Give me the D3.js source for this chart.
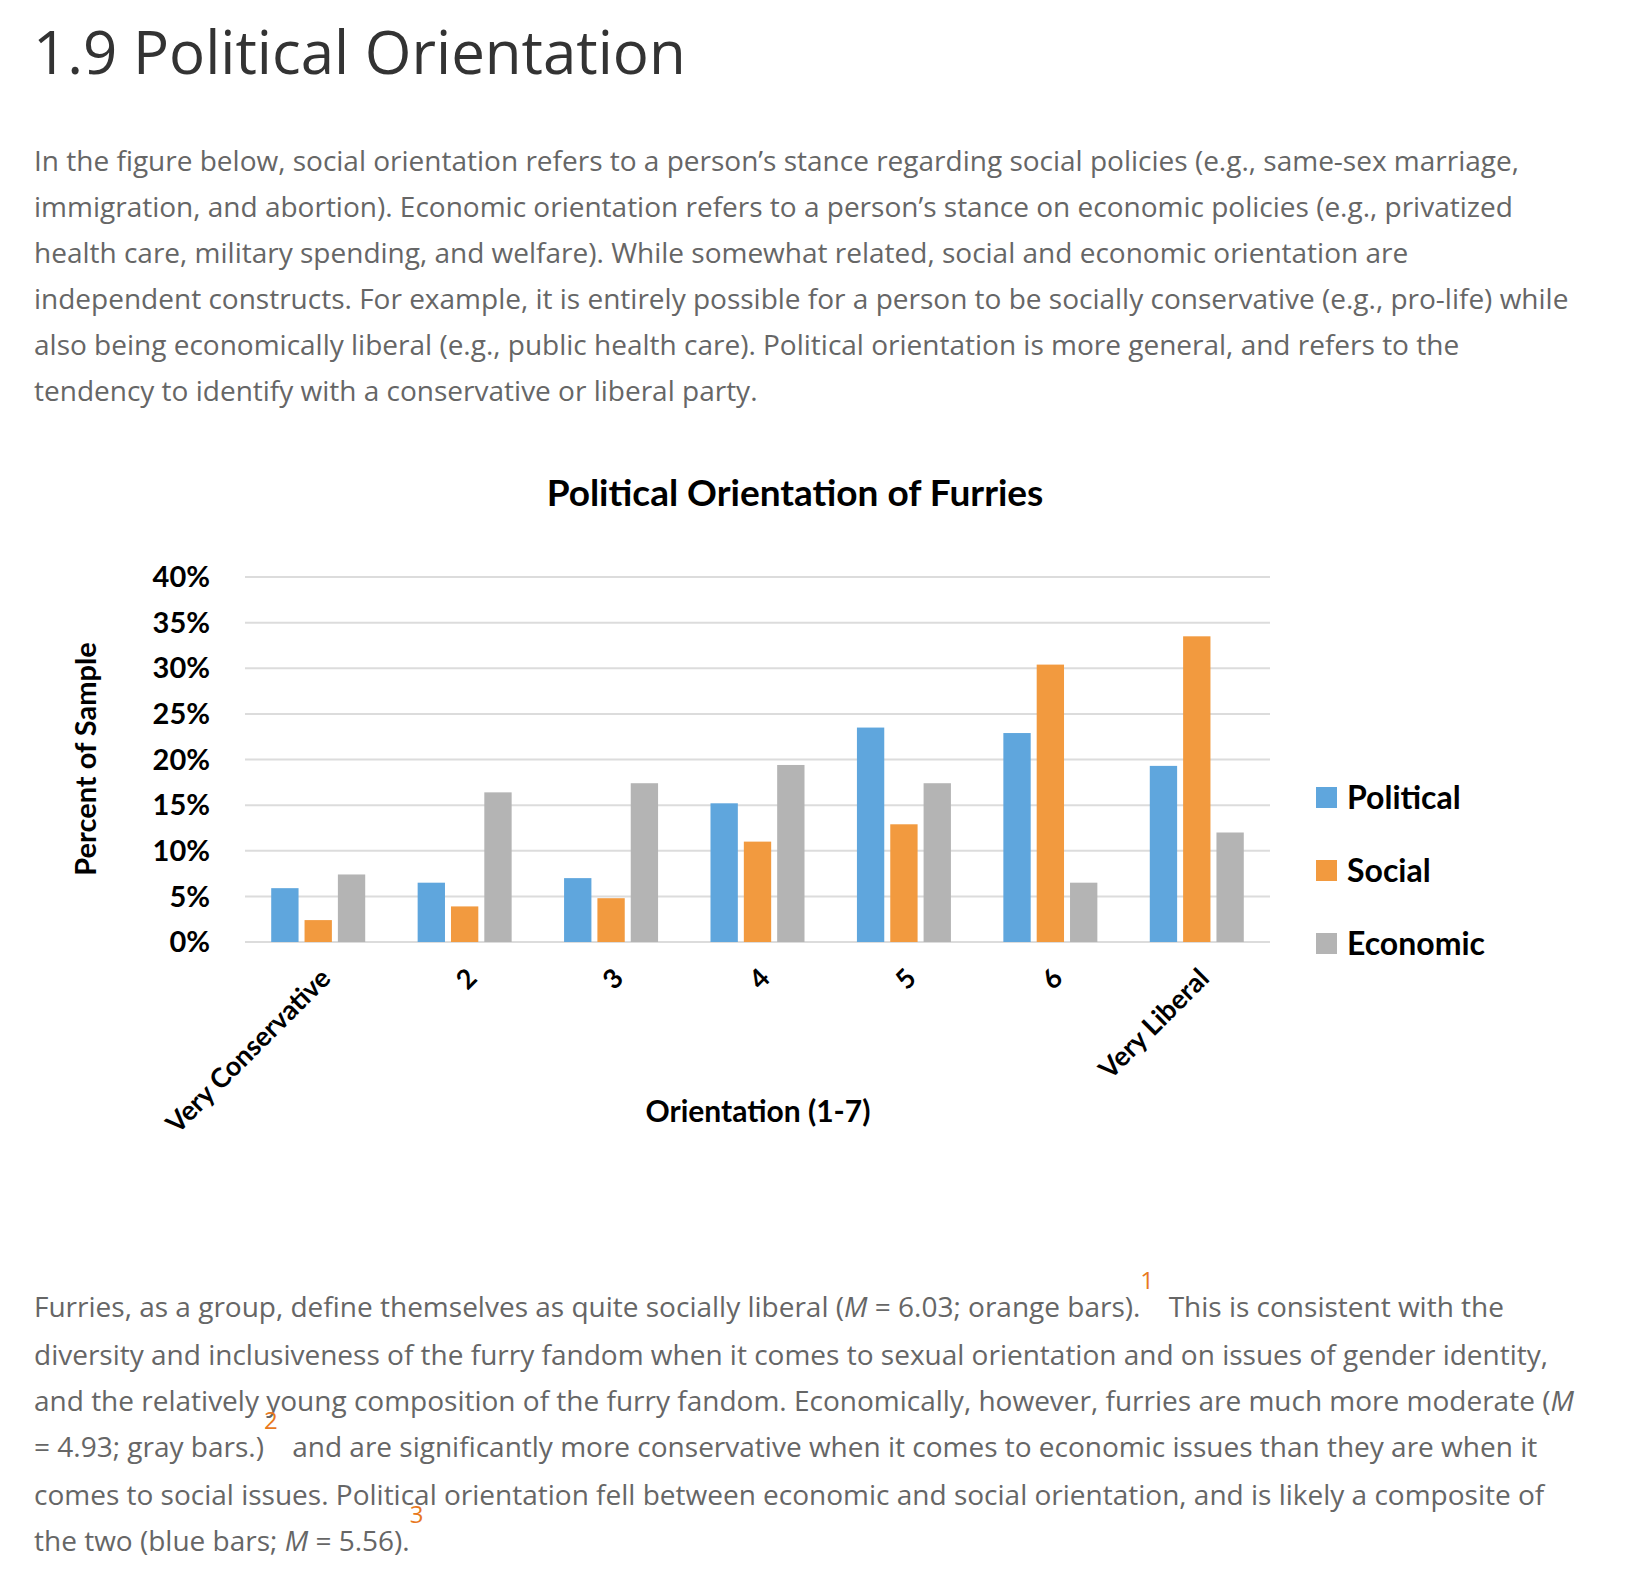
<!DOCTYPE html>
<html><head><meta charset="utf-8">
<script src="https://cdn.jsdelivr.net/npm/d3@7"></script>
<style>
body{margin:0;background:#fff;font-family:"Open Sans",sans-serif;}
#page{position:relative;width:1646px;height:1570px;overflow:hidden;}
h1{position:absolute;left:33px;top:10px;margin:0;font-weight:400;font-size:60px;color:#333;}
.p{position:absolute;left:34px;width:1545px;font-size:28px;line-height:46px;color:#666;margin:0;}
.p sup{color:#e8791e;font-size:24px;vertical-align:0;position:relative;top:-28px;}
svg{position:absolute;left:0;top:0;}
svg text{font-family:Lato,"DejaVu Sans",sans-serif;font-weight:700;fill:#000;}
</style></head>
<body><div id="page">
<h1>1.9 Political Orientation</h1>
<p class="p" style="top:137px">In the figure below, social orientation refers to a person’s stance regarding social policies (e.g., same-sex marriage, immigration, and abortion). Economic orientation refers to a person’s stance on economic policies (e.g., privatized health care, military spending, and welfare). While somewhat related, social and economic orientation are independent constructs. For example, it is entirely possible for a person to be socially conservative (e.g., pro-life) while also being economically liberal (e.g., public health care). Political orientation is more general, and refers to the tendency to identify with a conservative or liberal party.</p>
<p class="p" style="top:1283px">Furries, as a group, define themselves as quite socially liberal (<i>M</i> = 6.03; orange bars).<sup>1</sup>&nbsp; This is consistent with the diversity and inclusiveness of the furry fandom when it comes to sexual orientation and on issues of gender identity, and the relatively young composition of the furry fandom. Economically, however, furries are much more moderate (<i>M</i> = 4.93; gray bars.)<sup>2</sup>&nbsp; and are significantly more conservative when it comes to economic issues than they are when it comes to social issues. Political orientation fell between economic and social orientation, and is likely a composite of the two (blue bars; <i>M</i> = 5.56).<sup>3</sup></p>
<svg id="chart" width="1646" height="1570"></svg>
</div>
<script>
const categories = ["Very Conservative","2","3","4","5","6","Very Liberal"];
const seriesNames = ["Political","Social","Economic"];
const political = [5.9,6.5,7.0,15.2,23.5,22.9,19.3];
const social = [2.4,3.9,4.8,11.0,12.9,30.4,33.5];
const economic = [7.4,16.4,17.4,19.4,17.4,6.5,12.0];
const yTicks = [0,5,10,15,20,25,30,35,40];
const colors = ["#5fa6dd","#f29a3f","#b4b4b4"];

const svg = d3.select("#chart");
const plotLeft = 245, plotRight = 1270, plotTop = 577, plotBottom = 942;

const x = d3.scaleBand().domain(categories).range([plotLeft, plotRight]).padding(0);
const inner = d3.scaleBand().domain(seriesNames).range([0, 94]).paddingInner(0.18);
const y = d3.scaleLinear().domain([0, 40]).range([plotBottom, plotTop]);

// grid
svg.append("g").selectAll("line").data(yTicks).join("line")
  .attr("x1", plotLeft).attr("x2", plotRight)
  .attr("y1", d => y(d)).attr("y2", d => y(d))
  .attr("stroke", "#dcdcdc").attr("stroke-width", 2);

// y labels
svg.append("g").selectAll("text").data(yTicks).join("text")
  .attr("x", 210).attr("y", d => y(d)).attr("dy", "0.35em")
  .attr("text-anchor", "end").style("font-size", "29px")
  .text(d => d + "%");

// bars
const table = [political, social, economic];
const g = svg.append("g");
categories.forEach((c, i) => {
  seriesNames.forEach((s, j) => {
    g.append("rect")
      .attr("x", x(c) + x.bandwidth() / 2 - 47 + inner(s))
      .attr("width", inner.bandwidth())
      .attr("y", y(table[j][i]))
      .attr("height", y(0) - y(table[j][i]))
      .attr("fill", colors[j]);
  });
});

// x labels
svg.append("g").selectAll("text").data(categories).join("text")
  .attr("transform", d => `translate(${x(d) + x.bandwidth() / 2 + 14},${980}) rotate(-45)`)
  .attr("text-anchor", "end").style("font-size", "27px")
  .text(d => d);

// titles
svg.append("text").attr("x", 795).attr("y", 506).attr("text-anchor", "middle")
  .style("font-size", "37px").text("Political Orientation of Furries");
svg.append("text").attr("x", 758).attr("y", 1122).attr("text-anchor", "middle")
  .style("font-size", "30px").text("Orientation (1-7)");
svg.append("text").attr("transform", `translate(96,759) rotate(-90)`).attr("text-anchor", "middle")
  .style("font-size", "29px").text("Percent of Sample");

// legend
const lg = svg.append("g").selectAll("g").data(seriesNames).join("g")
  .attr("transform", (d, i) => `translate(1316,${798 + i * 73})`);
lg.append("rect").attr("x", 0).attr("y", -11).attr("width", 21).attr("height", 21)
  .attr("fill", (d, i) => colors[i]);
lg.append("text").attr("x", 31).attr("dy", "0.35em").style("font-size", "32px").text(d => d);
</script>
</body></html>
